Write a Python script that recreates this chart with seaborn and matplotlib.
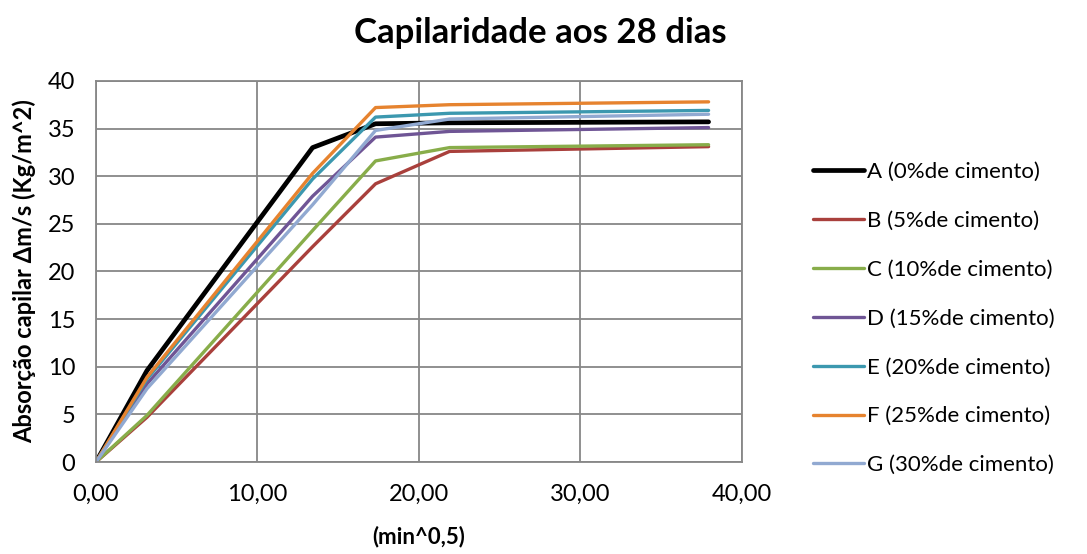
import numpy as np
import pandas as pd
import matplotlib
matplotlib.use("Agg")
import matplotlib.pyplot as plt
import seaborn as sns

x_vals = [0.0, 3.16, 13.42, 17.32, 21.91, 37.95]
A = [0.0, 9.6, 33.0, 35.5, 35.6, 35.7]
B = [0.0, 4.7, 22.6, 29.2, 32.6, 33.1]
C = [0.0, 4.9, 24.3, 31.6, 33.0, 33.3]
D = [0.0, 8.2, 27.9, 34.1, 34.7, 35.1]
E = [0.0, 8.7, 29.7, 36.2, 36.6, 36.9]
F = [0.0, 8.9, 30.3, 37.2, 37.5, 37.8]
G = [0.0, 7.7, 27.0, 34.8, 36.0, 36.5]
series_names = ["A (0%de cimento)", "B (5%de cimento)", "C (10%de cimento)",
                "D (15%de cimento)", "E (20%de cimento)", "F (25%de cimento)",
                "G (30%de cimento)"]
colors = ["#000000", "#A9403C", "#88AD4A", "#6F5595", "#3C98AF", "#E6832F", "#91A9D1"]
x_ticks = [0, 10, 20, 30, 40]
x_tick_labels = ["0,00", "10,00", "20,00", "30,00", "40,00"]
y_ticks = [0, 5, 10, 15, 20, 25, 30, 35, 40]

rows = []
for name, vals in zip(series_names, [A, B, C, D, E, F, G]):
    for xv, yv in zip(x_vals, vals):
        rows.append({"x": xv, "y": yv, "serie": name})
df = pd.DataFrame(rows)

sns.set_theme(style="white")
plt.rcParams['font.family'] = ['Lato', 'DejaVu Sans']
plt.rcParams['text.color'] = 'black'
plt.rcParams['axes.labelcolor'] = 'black'

fig = plt.figure(figsize=(10.87, 5.54), dpi=100)
ax = fig.add_axes([0.0883, 0.166, 0.594, 0.688])

sns.lineplot(data=df, x="x", y="y", hue="serie", palette=colors, ax=ax,
             linewidth=2.4, legend=False, sort=False)
for line, name in zip(ax.get_lines(), series_names):
    if name.startswith("A"):
        line.set_linewidth(3.4)
    line.set_solid_capstyle("round")

ax.set_xlim(0, 40)
ax.set_ylim(0, 40)
ax.set_xticks(x_ticks)
ax.set_xticklabels(x_tick_labels)
ax.set_yticks(y_ticks)
ax.grid(True, color="#878787", linewidth=1.3)
ax.set_axisbelow(True)
for s in ax.spines.values():
    s.set_color("#878787")
    s.set_linewidth(1.3)
ax.tick_params(axis="both", which="both", direction="out", length=6, width=1.3,
               color="#878787", labelsize=17, labelcolor="#000000")
ax.tick_params(axis="x", pad=10)
ax.tick_params(axis="y", pad=9)

ax.set_xlabel("(min^0,5)", fontsize=16, fontweight="bold", labelpad=15)
ax.set_ylabel("Absorção capilar Δm/s (Kg/m^2)", fontsize=17, fontweight="bold", labelpad=8)
fig.suptitle("Capilaridade aos 28 dias", fontsize=25, fontweight="bold", x=0.497, y=0.97)

handles = [plt.Line2D([0], [0], color=c, linewidth=(3.4 if i == 0 else 2.4))
           for i, c in enumerate(colors)]
fig.legend(handles, series_names, loc="center left", bbox_to_anchor=(0.74, 0.425),
           frameon=False, fontsize=16, handlelength=2.3, handletextpad=0.1,
           labelspacing=1.3, borderaxespad=0.0)

fig.savefig("out.png", dpi=100)
